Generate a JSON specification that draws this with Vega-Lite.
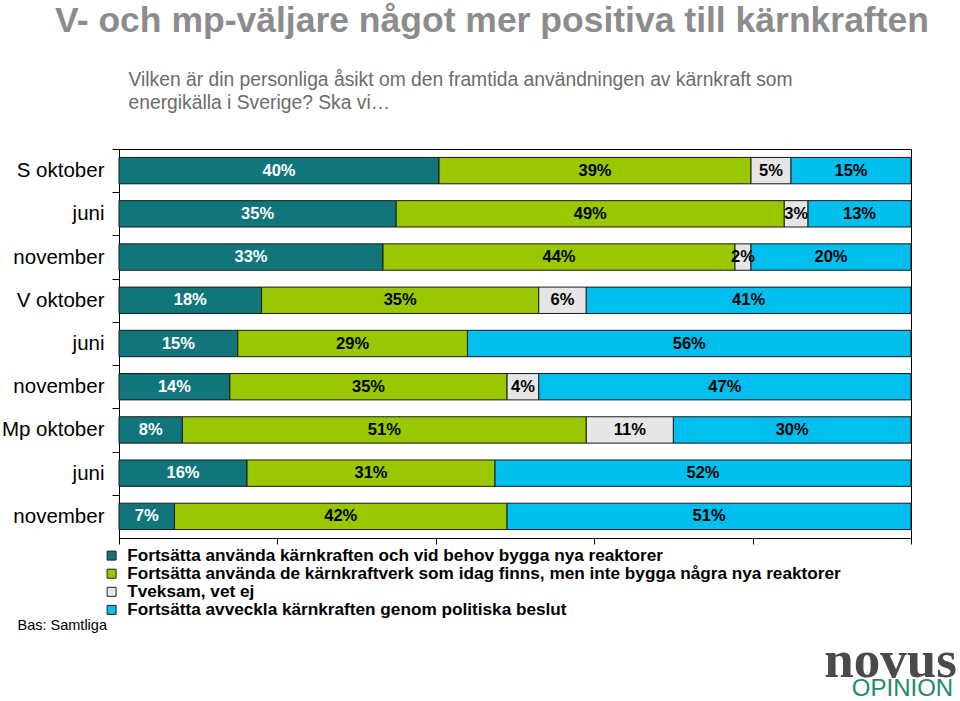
{
  "$schema": "https://vega.github.io/schema/vega-lite/v6.json",
  "width": 792,
  "height": 389,
  "autosize": {"type": "none"},
  "padding": {"left": 119, "top": 149, "right": 49, "bottom": 163},
  "background": "white",
  "title": {
    "text": "V- och mp-väljare något mer positiva till kärnkraften",
    "anchor": "start",
    "frame": "group",
    "dx": -64,
    "font": "Liberation Sans",
    "fontSize": 35.5,
    "fontWeight": "bold",
    "color": "#8c8c8c",
    "offset": 31
  },
  "config": {
    "view": {"stroke": "#000000", "strokeWidth": 1},
    "font": "Liberation Sans",
    "locale": {"number": {"decimal": ",", "thousands": " ", "grouping": [3], "currency": ["", "%"]}}
  },
  "data": {
    "values": [
      {"rad": "S oktober", "kat": "Fortsätta använda kärnkraften och vid behov bygga nya reaktorer", "k": 1, "v": 40},
      {"rad": "S oktober", "kat": "Fortsätta använda de kärnkraftverk som idag finns, men inte bygga några nya reaktorer", "k": 2, "v": 39},
      {"rad": "S oktober", "kat": "Tveksam, vet ej", "k": 3, "v": 5},
      {"rad": "S oktober", "kat": "Fortsätta avveckla kärnkraften genom politiska beslut", "k": 4, "v": 15},
      {"rad": "S juni", "kat": "Fortsätta använda kärnkraften och vid behov bygga nya reaktorer", "k": 1, "v": 35},
      {"rad": "S juni", "kat": "Fortsätta använda de kärnkraftverk som idag finns, men inte bygga några nya reaktorer", "k": 2, "v": 49},
      {"rad": "S juni", "kat": "Tveksam, vet ej", "k": 3, "v": 3},
      {"rad": "S juni", "kat": "Fortsätta avveckla kärnkraften genom politiska beslut", "k": 4, "v": 13},
      {"rad": "S november", "kat": "Fortsätta använda kärnkraften och vid behov bygga nya reaktorer", "k": 1, "v": 33},
      {"rad": "S november", "kat": "Fortsätta använda de kärnkraftverk som idag finns, men inte bygga några nya reaktorer", "k": 2, "v": 44},
      {"rad": "S november", "kat": "Tveksam, vet ej", "k": 3, "v": 2},
      {"rad": "S november", "kat": "Fortsätta avveckla kärnkraften genom politiska beslut", "k": 4, "v": 20},
      {"rad": "V oktober", "kat": "Fortsätta använda kärnkraften och vid behov bygga nya reaktorer", "k": 1, "v": 18},
      {"rad": "V oktober", "kat": "Fortsätta använda de kärnkraftverk som idag finns, men inte bygga några nya reaktorer", "k": 2, "v": 35},
      {"rad": "V oktober", "kat": "Tveksam, vet ej", "k": 3, "v": 6},
      {"rad": "V oktober", "kat": "Fortsätta avveckla kärnkraften genom politiska beslut", "k": 4, "v": 41},
      {"rad": "V juni", "kat": "Fortsätta använda kärnkraften och vid behov bygga nya reaktorer", "k": 1, "v": 15},
      {"rad": "V juni", "kat": "Fortsätta använda de kärnkraftverk som idag finns, men inte bygga några nya reaktorer", "k": 2, "v": 29},
      {"rad": "V juni", "kat": "Fortsätta avveckla kärnkraften genom politiska beslut", "k": 4, "v": 56},
      {"rad": "V november", "kat": "Fortsätta använda kärnkraften och vid behov bygga nya reaktorer", "k": 1, "v": 14},
      {"rad": "V november", "kat": "Fortsätta använda de kärnkraftverk som idag finns, men inte bygga några nya reaktorer", "k": 2, "v": 35},
      {"rad": "V november", "kat": "Tveksam, vet ej", "k": 3, "v": 4},
      {"rad": "V november", "kat": "Fortsätta avveckla kärnkraften genom politiska beslut", "k": 4, "v": 47},
      {"rad": "Mp oktober", "kat": "Fortsätta använda kärnkraften och vid behov bygga nya reaktorer", "k": 1, "v": 8},
      {"rad": "Mp oktober", "kat": "Fortsätta använda de kärnkraftverk som idag finns, men inte bygga några nya reaktorer", "k": 2, "v": 51},
      {"rad": "Mp oktober", "kat": "Tveksam, vet ej", "k": 3, "v": 11},
      {"rad": "Mp oktober", "kat": "Fortsätta avveckla kärnkraften genom politiska beslut", "k": 4, "v": 30},
      {"rad": "Mp juni", "kat": "Fortsätta använda kärnkraften och vid behov bygga nya reaktorer", "k": 1, "v": 16},
      {"rad": "Mp juni", "kat": "Fortsätta använda de kärnkraftverk som idag finns, men inte bygga några nya reaktorer", "k": 2, "v": 31},
      {"rad": "Mp juni", "kat": "Fortsätta avveckla kärnkraften genom politiska beslut", "k": 4, "v": 52},
      {"rad": "Mp november", "kat": "Fortsätta använda kärnkraften och vid behov bygga nya reaktorer", "k": 1, "v": 7},
      {"rad": "Mp november", "kat": "Fortsätta använda de kärnkraftverk som idag finns, men inte bygga några nya reaktorer", "k": 2, "v": 42},
      {"rad": "Mp november", "kat": "Fortsätta avveckla kärnkraften genom politiska beslut", "k": 4, "v": 51}
    ]
  },
  "resolve": {"axis": {"x": "independent", "y": "independent"}},
  "layer": [
    {
      "mark": {"type": "bar", "stroke": "#1a1a1a", "strokeWidth": 1},
      "encoding": {
        "y": {
          "field": "rad",
          "type": "nominal",
          "sort": ["S oktober", "S juni", "S november", "V oktober", "V juni", "V november", "Mp oktober", "Mp juni", "Mp november"],
          "scale": {"paddingInner": 0.39, "paddingOuter": 0.195},
          "axis": {
            "orient": "left",
            "title": "Bas: Samtliga",
            "titleAngle": 0,
            "titleAlign": "left",
            "titleBaseline": "alphabetic",
            "titleX": -102,
            "titleY": 480,
            "titleFont": "Liberation Sans",
            "titleFontSize": 14.5,
            "titleFontWeight": "normal",
            "titleColor": "#000000",
            "labelExpr": "indexof(datum.value, 'oktober') >= 0 ? datum.value : split(datum.value, ' ')[1]",
            "labelFont": "Liberation Sans",
            "labelFontSize": 20.5,
            "labelColor": "#000000",
            "labelPadding": 8,
            "tickOffset": -21.6,
            "labelOffset": 21.6,
            "tickSize": 7,
            "tickColor": "#000000",
            "domainColor": "#000000",
            "grid": false
          }
        },
        "x": {
          "field": "v",
          "type": "quantitative",
          "stack": "normalize",
          "axis": {
            "orient": "bottom",
            "values": [0, 0.2, 0.4, 0.6, 0.8, 1],
            "labels": false,
            "grid": false,
            "tickSize": 6,
            "tickColor": "#000000",
            "domainColor": "#000000",
            "title": "novus",
            "titleX": 771,
            "titleY": 138,
            "titleAlign": "center",
            "titleBaseline": "alphabetic",
            "titleFont": "Liberation Serif",
            "titleFontSize": 53,
            "titleFontWeight": "bold",
            "titleColor": "#4a4a4a"
          }
        },
        "order": {"field": "k", "type": "quantitative"},
        "color": {
          "field": "kat",
          "type": "nominal",
          "scale": {
            "domain": [
              "Fortsätta använda kärnkraften och vid behov bygga nya reaktorer",
              "Fortsätta använda de kärnkraftverk som idag finns, men inte bygga några nya reaktorer",
              "Tveksam, vet ej",
              "Fortsätta avveckla kärnkraften genom politiska beslut"
            ],
            "range": ["#10767b", "#99c800", "#e6e6e6", "#00bfee"]
          },
          "legend": {
            "orient": "none",
            "legendX": -16,
            "legendY": 398,
            "title": null,
            "symbolType": "square",
            "symbolSize": 81,
            "symbolStrokeColor": "#222222",
            "symbolStrokeWidth": 1,
            "labelFont": "Liberation Sans",
            "labelFontSize": 17.2,
            "labelFontWeight": "bold",
            "labelColor": "#000000",
            "labelLimit": 1000,
            "labelOffset": 7,
            "rowPadding": 0.1
          }
        }
      }
    },
    {
      "mark": {"type": "text", "font": "Liberation Sans", "fontSize": 16.5, "fontWeight": "bold"},
      "encoding": {
        "y": {
          "field": "rad",
          "type": "nominal",
          "sort": ["S oktober", "S juni", "S november", "V oktober", "V juni", "V november", "Mp oktober", "Mp juni", "Mp november"],
          "axis": {
            "orient": "right",
            "labels": false,
            "ticks": false,
            "domain": false,
            "grid": false,
            "title": "OPINION",
            "titleAngle": 0,
            "titleAlign": "center",
            "titleBaseline": "alphabetic",
            "titleX": -9,
            "titleY": 546,
            "titleFont": "Liberation Sans",
            "titleFontSize": 24,
            "titleFontWeight": "normal",
            "titleColor": "#1f8a6c"
          }
        },
        "x": {
          "field": "v",
          "type": "quantitative",
          "stack": "normalize",
          "bandPosition": 0.5,
          "axis": {
            "orient": "top",
            "labels": false,
            "ticks": false,
            "domain": false,
            "grid": false,
            "title": ["Vilken är din personliga åsikt om den framtida användningen av kärnkraft som", "energikälla i Sverige? Ska vi…"],
            "titleX": 9,
            "titleY": -64,
            "titleAlign": "left",
            "titleAnchor": "start",
            "titleBaseline": "alphabetic",
            "titleFont": "Liberation Sans",
            "titleFontSize": 19.3,
            "titleFontWeight": "normal",
            "titleLineHeight": 23,
            "titleColor": "#6b6b6b"
          }
        },
        "order": {"field": "k", "type": "quantitative"},
        "text": {"field": "v", "type": "quantitative", "format": "$.0f"},
        "detail": {"field": "kat", "type": "nominal"},
        "color": {
          "condition": {"test": "datum.k === 1", "value": "#ffffff"},
          "value": "#000000"
        }
      }
    }
  ]
}
